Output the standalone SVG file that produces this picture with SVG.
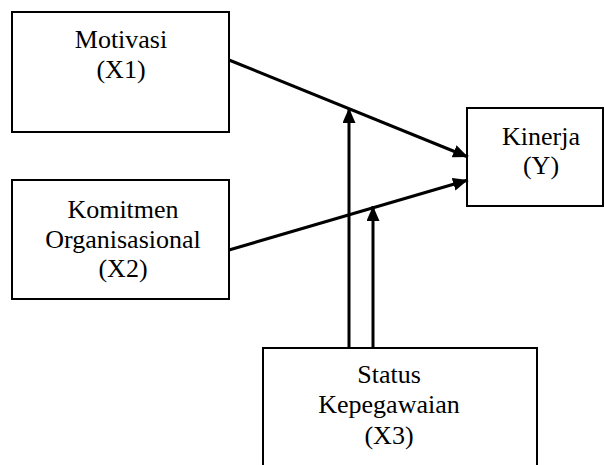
<svg xmlns="http://www.w3.org/2000/svg" width="605" height="465" viewBox="0 0 605 465">
<style>
.box{fill:#fff;stroke:#000;stroke-width:2}
.t{font-family:"Liberation Serif","Times New Roman",serif;font-size:26px;fill:#000;text-anchor:middle}
.c{stroke:#000;stroke-width:3;fill:none}
</style>
<defs>
<marker id="ah" markerUnits="userSpaceOnUse" markerWidth="16" markerHeight="14" refX="15" refY="6.5" orient="auto">
<path d="M0,0 L15,6.5 L0,13 z" fill="#000"/>
</marker>
</defs>
<rect width="605" height="465" fill="#fff"/>
<g id="x1">
<rect class="box" x="12" y="12" width="217" height="120"/>
<text class="t" x="121" y="48">Motivasi</text>
<text class="t" x="121" y="78">(X1)</text>
</g>
<g id="x2">
<rect class="box" x="12" y="180" width="217" height="119"/>
<text class="t" x="123" y="218">Komitmen</text>
<text class="t" x="123" y="248">Organisasional</text>
<text class="t" x="123" y="277">(X2)</text>
</g>
<g id="y">
<rect class="box" x="467" y="108" width="136" height="98"/>
<text class="t" x="541" y="145">Kinerja</text>
<text class="t" x="541" y="174">(Y)</text>
</g>
<g id="x3">
<rect class="box" x="263" y="348" width="274" height="130"/>
<text class="t" x="389" y="383">Status</text>
<text class="t" x="389" y="413">Kepegawaian</text>
<text class="t" x="389" y="444">(X3)</text>
</g>
<g id="connectors">
<line class="c" x1="229" y1="60" x2="468" y2="157" marker-end="url(#ah)"/>
<line class="c" x1="229" y1="250" x2="468" y2="180" marker-end="url(#ah)"/>
<line class="c" x1="349" y1="348" x2="349" y2="108" marker-end="url(#ah)"/>
<line class="c" x1="373" y1="348" x2="373" y2="206" marker-end="url(#ah)"/>
</g>
</svg>
